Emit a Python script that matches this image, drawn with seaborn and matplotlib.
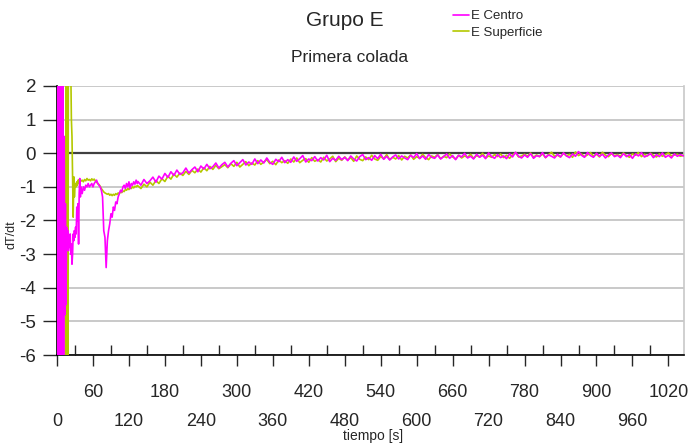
import numpy as np
import pandas as pd
import matplotlib
matplotlib.use("Agg")
import matplotlib.pyplot as plt
import seaborn as sns

# ---------------- data ----------------
time_early = list(range(0, 41)) + list(range(42, 135, 2))
time_tail = list(range(135, 1046, 5))

centro_early = [
    0, -7, 2.5, -7, 2.5, -7, 2.5, -7, 2.5, -7,
    2.5, -7, 0.5, -4.8, -1.5, -4.5, -2.2, -2.7, -2.3, -2.9,
    -2.5, -2.8, -2.4, -3.0, -2.7, -3.3, -3.0, -2.4, -2.6, -2.3,
    -2.5, -2.2, -2.4, -1.6, -2.0, -1.5, -2.7, -1.2, -0.75, -1.3,
    -1.0,
    -1.2, -1.0, -1.1, -0.95, -1.0, -0.9, -1.0, -0.95, -0.9, -1.0,
    -0.9, -0.85, -0.8, -0.9, -0.95, -1.0, -1.1, -1.3, -2.3, -2.5,
    -3.4, -2.6, -2.3, -2.1, -1.8, -1.9, -1.6, -1.7, -1.45, -1.5,
    -1.3, -1.2, -1.1, -1.15, -1.0, -0.95, -1.05, -0.9, -1.0, -0.85,
    -1.05, -0.9, -0.95, -0.85, -0.92, -0.8, -0.9,
]
centro_tail = [
    -0.84, -0.95, -0.78, -0.90, -0.82, -0.71, -0.86, -0.68, -0.77, -0.60,
    -0.72, -0.55, -0.66, -0.50, -0.63, -0.58, -0.44, -0.59, -0.49, -0.41,
    -0.55, -0.38, -0.47, -0.33, -0.46, -0.40, -0.29, -0.44, -0.34, -0.27,
    -0.41, -0.30, -0.22, -0.37, -0.28, -0.19, -0.35, -0.26, -0.33, -0.17,
    -0.31, -0.20, -0.29, -0.14, -0.27, -0.33, -0.18, -0.25, -0.12, -0.28,
    -0.19, -0.27, -0.11, -0.24, -0.16, -0.07, -0.26, -0.17, -0.22, -0.10,
    -0.23, -0.13, -0.20, -0.06, -0.25, -0.15, -0.21, -0.09, -0.19, -0.12,
    -0.22, -0.08, -0.17, -0.23, -0.10, -0.04, -0.19, -0.13, -0.21, -0.07,
    -0.16, -0.03, -0.18, -0.09, -0.20, -0.11, -0.05, -0.17, -0.08, -0.14,
    -0.19, -0.06, -0.13, -0.01, -0.16, -0.08, -0.18, -0.04, -0.12, -0.15,
    -0.05, -0.17, -0.10, -0.02, -0.15, -0.07, -0.19, -0.06, -0.11, 0.00,
    -0.14, -0.09, -0.17, -0.03, -0.12, -0.06, -0.16, 0.01, -0.10, -0.15,
    -0.04, -0.13, -0.08, -0.16, -0.02, -0.11, 0.03, -0.09, -0.14, -0.05,
    -0.12, -0.01, -0.15, -0.07, -0.10, 0.02, -0.13, -0.05, -0.09, -0.14,
    -0.03, -0.11, 0.01, -0.08, -0.13, -0.02, -0.09, 0.05, -0.06, -0.12,
    0.02, -0.07, -0.12, 0.00, -0.09, -0.03, -0.14, -0.05, 0.01, -0.10,
    -0.06, -0.13, -0.01, -0.10, -0.04, -0.15, -0.02, -0.08, 0.02, -0.11,
    -0.07, -0.01, -0.13, -0.04, -0.10, 0.01, -0.12, -0.06, -0.14, -0.02,
    -0.09, -0.04, -0.08,
]

superficie_early = [
    0, -7, -7, -7, -7, -7, -7, -7, 2.5, -7,
    2.5, -7, -7, -7, -7, 2.5, -7, 2.5, -7, 3.0,
    3.0, 2.5, 3.0, 2.5, 1.0, 0.5, -0.7, -1.9, -0.7, -1.3,
    -1.0, -0.9, -1.0, -0.85, -0.95, -0.8, -0.88, -0.78, -0.85, -0.8,
    -0.83,
    -0.8, -0.85, -0.78, -0.82, -0.75, -0.8, -0.78, -0.82, -0.76, -0.8,
    -0.77, -0.82, -0.86, -0.9, -0.93, -0.98, -1.05, -1.1, -1.15, -1.18,
    -1.2, -1.22, -1.2, -1.25, -1.22, -1.26, -1.22, -1.25, -1.2, -1.23,
    -1.18, -1.2, -1.15, -1.17, -1.12, -1.14, -1.08, -1.1, -1.05, -1.08,
    -1.02, -1.05, -1.0, -1.03, -0.98, -1.0, -0.96,
]
superficie_tail = [
    -0.97, -1.05, -0.92, -1.00, -0.86, -0.95, -0.81, -0.90, -0.76, -0.84,
    -0.68, -0.77, -0.62, -0.71, -0.59, -0.66, -0.54, -0.63, -0.51, -0.58,
    -0.47, -0.56, -0.43, -0.52, -0.39, -0.48, -0.36, -0.46, -0.40, -0.34,
    -0.43, -0.31, -0.39, -0.27, -0.41, -0.33, -0.25, -0.37, -0.29, -0.35,
    -0.22, -0.33, -0.26, -0.19, -0.31, -0.24, -0.34, -0.20, -0.28, -0.22,
    -0.30, -0.17, -0.26, -0.14, -0.28, -0.21, -0.16, -0.27, -0.13, -0.24,
    -0.19, -0.26, -0.12, -0.23, -0.17, -0.09, -0.25, -0.15, -0.21, -0.11,
    -0.20, -0.13, -0.24, -0.08, -0.18, -0.22, -0.11, -0.19, -0.06, -0.17,
    -0.21, -0.10, -0.16, -0.04, -0.19, -0.12, -0.17, -0.07, -0.20, -0.09,
    -0.14, -0.05, -0.18, -0.10, -0.15, -0.03, -0.13, -0.19, -0.08, -0.12,
    -0.04, -0.16, -0.09, -0.13, -0.02, -0.11, -0.17, -0.06, -0.14, -0.08,
    -0.12, -0.03, -0.15, -0.07, -0.11, 0.00, -0.14, -0.08, -0.12, -0.04,
    -0.10, -0.02, -0.13, -0.06, -0.15, -0.05, 0.02, -0.11, -0.08, -0.03,
    -0.09, 0.01, -0.12, -0.05, -0.10, -0.02, -0.13, -0.04, 0.03, -0.09,
    -0.06, -0.11, 0.00, -0.08, -0.03, -0.12, 0.04, -0.07, -0.02, -0.10,
    -0.05, 0.02, -0.09, -0.03, -0.11, 0.03, -0.06, -0.10, -0.01, -0.07,
    -0.04, -0.09, 0.01, -0.07, -0.12, -0.02, -0.06, 0.02, -0.10, -0.03,
    -0.08, 0.00, -0.06, -0.11, -0.02, -0.09, -0.04, 0.01, -0.08, -0.05,
    -0.03, -0.09, -0.06,
]

series_names = ["E Centro", "E Superficie"]
series_colors = ["#FF00FF", "#B4C800"]
x_major = list(range(0, 1046, 60))
x_minor = list(range(30, 1046, 60))
y_ticks = list(range(-6, 3))

# ---------------- figure ----------------
sns.set_style("white")
plt.rcParams["font.family"] = ["Liberation Sans", "DejaVu Sans"]
plt.rcParams["axes.unicode_minus"] = False

fig = plt.figure(figsize=(6.91, 4.44), dpi=100)
ax = fig.add_axes([57 / 691, 1 - 355 / 444, 627 / 691, 269 / 444])

t_all = time_early + time_tail
df_c = pd.DataFrame({"t": t_all, "v": centro_early + centro_tail})
df_s = pd.DataFrame({"t": t_all, "v": superficie_early + superficie_tail})

sns.lineplot(data=df_s, x="t", y="v", ax=ax, color=series_colors[1],
             linewidth=1.2, estimator=None, sort=False, zorder=3)
sns.lineplot(data=df_c, x="t", y="v", ax=ax, color=series_colors[0],
             linewidth=1.2, estimator=None, sort=False, zorder=4)

ax.set_xlim(0, 1046)
ax.set_ylim(-6, 2)

for y in y_ticks:
    if y == 0:
        continue
    ax.axhline(y, color="#c0c0c0", linewidth=1.2, zorder=1)
ax.axhline(0, color="#404040", linewidth=1.6, zorder=2)

for side in ["left", "bottom"]:
    ax.spines[side].set_color("black")
    ax.spines[side].set_linewidth(1.2)
ax.spines["right"].set_color("#c8c8c8")
ax.spines["right"].set_linewidth(1.2)
ax.spines["top"].set_visible(False)

labels = [str(v) if (v // 60) % 2 == 1 else "\n" + str(v) for v in x_major]
ax.set_xticks(x_major, labels)
ax.set_xticks(x_minor, minor=True)
ax.tick_params(axis="x", which="major", direction="out", length=8, width=1,
               pad=13, labelsize=13, bottom=True)
ax.tick_params(axis="x", which="minor", direction="in", length=7, width=1,
               bottom=True)
for lbl in ax.get_xticklabels():
    lbl.set_linespacing(1.9)

ax.set_yticks(y_ticks)
ax.tick_params(axis="y", direction="out", length=10, width=1, pad=5,
               labelsize=13.5, left=True)

ax.set_xlabel("tiempo [s]", fontsize=10, va="center")
ax.xaxis.set_label_coords(0.504, -0.30)
ax.set_ylabel("dT/dt", fontsize=9, va="center")
ax.yaxis.set_label_coords(-0.072, 0.446)

fig.text(345 / 691, 1 - 20 / 444, "Grupo E", ha="center", va="center", fontsize=15)
fig.text(350 / 691, 1 - 58 / 444, "Primera colada", ha="center", va="center", fontsize=12.5)

handles = [plt.Line2D([], [], color=series_colors[0], lw=1.2),
           plt.Line2D([], [], color=series_colors[1], lw=1.2)]
fig.legend(handles, series_names, loc="upper left",
           bbox_to_anchor=(453 / 691, 1 - 10 / 444), frameon=False,
           fontsize=9.5, handlelength=1.2, handletextpad=0.15,
           labelspacing=0.35, borderpad=0, borderaxespad=0)

fig.savefig("out.png", dpi=100)
